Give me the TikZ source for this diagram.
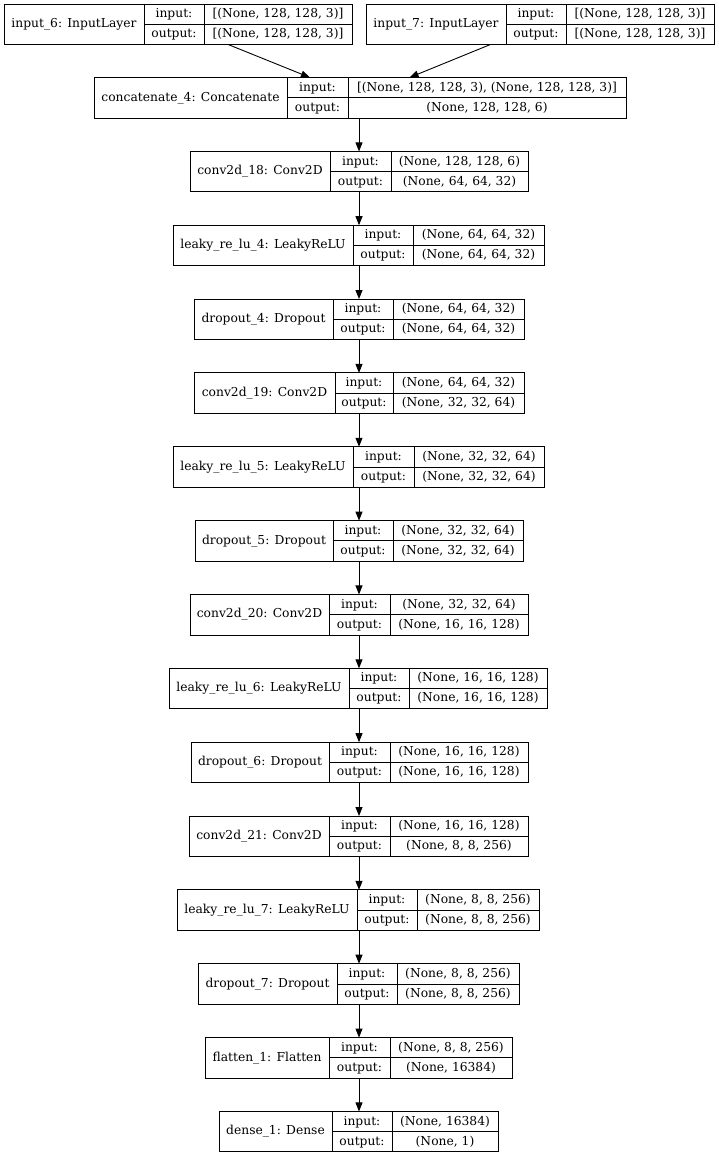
\documentclass[tikz,border=0pt]{standalone}
\usepackage{fontspec}
\setmainfont{DejaVu Serif}
\usetikzlibrary{arrows.meta}

\tikzset{
  layerbox/.style={rectangle, draw=black, line width=0.9pt, inner sep=0pt, outer sep=0pt},
  txt/.style={inner sep=0pt, text height=9pt, text depth=2.5pt, font=\fontsize{12.3}{14}\selectfont},
  link/.style={line width=0.9pt, -{Triangle[length=9pt,width=7pt]}}
}

% name, top, left, divider 1, divider 2, right, title, input, output
\newcommand{\layer}[9]{%
  \node[layerbox, minimum width={(#6-#3)*1pt}, minimum height=40.5pt] (#1) at ({(#3+#6)/2},{#2+20.25}) {};
  \draw[line width=0.9pt] ({#4},{#2}) -- ({#4},{#2+40.5});
  \draw[line width=0.9pt] ({#5},{#2}) -- ({#5},{#2+40.5});
  \draw[line width=0.9pt] ({#4},{#2+20.25}) -- ({#6},{#2+20.25});
  \node[txt] (#1-name) at ({(#3+#4)/2},{#2+20.25}) {#7};
  \node[txt] (#1-inl) at ({(#4+#5)/2},{#2+10.4}) {input:};
  \node[txt] (#1-outl) at ({(#4+#5)/2},{#2+30.4}) {output:};
  \node[txt] (#1-in) at ({(#5+#6)/2},{#2+10.4}) {#8};
  \node[txt] (#1-out) at ({(#5+#6)/2},{#2+30.4}) {#9};
}

\begin{document}
\begin{tikzpicture}[x=1pt, y=-1pt]
  \useasboundingbox (0,0) rectangle (718,1156);

  \layer{in6}{4}{4}{144}{204}{352}{input\_6: InputLayer}{[(None, 128, 128, 3)]}{[(None, 128, 128, 3)]}
  \layer{in7}{4}{366}{506}{566}{714}{input\_7: InputLayer}{[(None, 128, 128, 3)]}{[(None, 128, 128, 3)]}
  \layer{cat4}{77.5}{94}{287}{348}{626}{concatenate\_4: Concatenate}{[(None, 128, 128, 3), (None, 128, 128, 3)]}{(None, 128, 128, 6)}
  \layer{conv18}{151.4}{190}{330}{391}{528}{conv2d\_18: Conv2D}{(None, 128, 128, 6)}{(None, 64, 64, 32)}
  \layer{lrelu4}{225.2}{173}{353}{413}{544}{leaky\_re\_lu\_4: LeakyReLU}{(None, 64, 64, 32)}{(None, 64, 64, 32)}
  \layer{drop4}{299}{194}{333}{393}{524}{dropout\_4: Dropout}{(None, 64, 64, 32)}{(None, 64, 64, 32)}
  \layer{conv19}{372.9}{194}{335}{393}{524}{conv2d\_19: Conv2D}{(None, 64, 64, 32)}{(None, 32, 32, 64)}
  \layer{lrelu5}{446.75}{173}{353}{414}{544}{leaky\_re\_lu\_5: LeakyReLU}{(None, 32, 32, 64)}{(None, 32, 32, 64)}
  \layer{drop5}{520.6}{195}{333}{393}{523}{dropout\_5: Dropout}{(None, 32, 32, 64)}{(None, 32, 32, 64)}
  \layer{conv20}{594.45}{190}{329}{390}{528}{conv2d\_20: Conv2D}{(None, 32, 32, 64)}{(None, 16, 16, 128)}
  \layer{lrelu6}{668.3}{169}{349}{409}{547}{leaky\_re\_lu\_6: LeakyReLU}{(None, 16, 16, 128)}{(None, 16, 16, 128)}
  \layer{drop6}{742.15}{191}{329}{390}{528}{dropout\_6: Dropout}{(None, 16, 16, 128)}{(None, 16, 16, 128)}
  \layer{conv21}{816}{189}{329}{390}{528}{conv2d\_21: Conv2D}{(None, 16, 16, 128)}{(None, 8, 8, 256)}
  \layer{lrelu7}{889.85}{177}{357}{417}{539}{leaky\_re\_lu\_7: LeakyReLU}{(None, 8, 8, 256)}{(None, 8, 8, 256)}
  \layer{drop7}{963.7}{198}{337}{397}{519}{dropout\_7: Dropout}{(None, 8, 8, 256)}{(None, 8, 8, 256)}
  \layer{flat1}{1037.55}{205}{329}{390}{512}{flatten\_1: Flatten}{(None, 8, 8, 256)}{(None, 16384)}
  \layer{dense1}{1111.4}{219}{332}{392}{498}{dense\_1: Dense}{(None, 16384)}{(None, 1)}

  % edges
  \coordinate (axis) at (359,0);
  \draw[link] (in6) -- (cat4);
  \draw[link] (in7) -- (cat4);
  \foreach \a/\b in {cat4/conv18, conv18/lrelu4, lrelu4/drop4, drop4/conv19, conv19/lrelu5,
      lrelu5/drop5, drop5/conv20, conv20/lrelu6, lrelu6/drop6, drop6/conv21, conv21/lrelu7,
      lrelu7/drop7, drop7/flat1, flat1/dense1}
    \draw[link] (axis |- \a.south) -- (axis |- \b.north);
\end{tikzpicture}
\end{document}
